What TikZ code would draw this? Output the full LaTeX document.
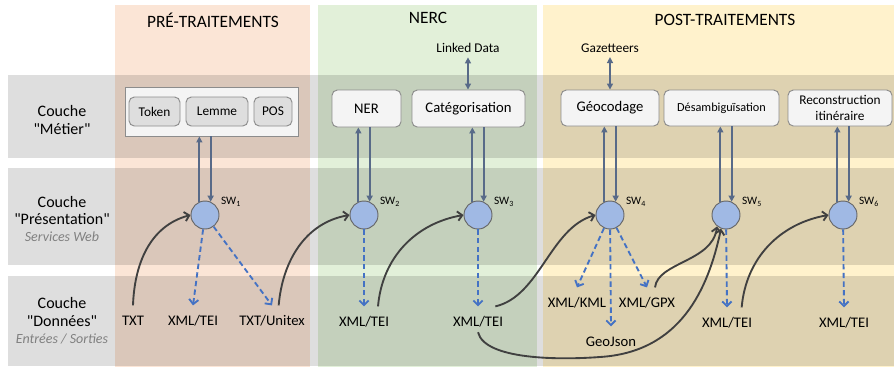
\documentclass[tikz,border=0pt]{standalone}
\usepackage{fontspec}
\setmainfont{Carlito}[Ligatures=TeXOff]
\usepackage{xcolor}
\usepackage{tikz}
\usetikzlibrary{arrows.meta}
\definecolor{prepeach}{RGB}{251,229,214}
\definecolor{nercgreen}{RGB}{226,240,217}
\definecolor{postyellow}{RGB}{255,242,204}
\definecolor{swblue}{RGB}{160,185,228}
\definecolor{pairline}{RGB}{88,106,136}
\definecolor{outblue}{RGB}{68,114,196}
\definecolor{curvegray}{RGB}{64,64,64}
\definecolor{boxfill}{RGB}{244,244,244}
\definecolor{tokfill}{RGB}{222,222,222}

\begin{document}
\begin{tikzpicture}[x=0.75pt,y=-0.75pt,
  title/.style={font=\fontsize{13}{15}\selectfont},
  layer/.style={align=center,font=\fontsize{12}{13}\selectfont},
  metier/.style={draw=black!45,fill=boxfill,rounded corners=4pt,inner sep=1pt,line width=0.7pt,font=\fontsize{11}{12}\selectfont},
  subbox/.style={metier,fill=tokfill,font=\fontsize{10}{11}\selectfont,minimum height=21.75pt},
  sw/.style={circle,draw=black!60,fill=swblue,minimum size=21pt,inner sep=0pt,line width=0.7pt},
  swlabel/.style={anchor=west,inner sep=1pt,font=\fontsize{8.5}{10}\selectfont},
  data/.style={font=\fontsize{11}{12}\selectfont,inner sep=7pt,text height=7.5pt,text depth=1.5pt},
  pair/.style={draw=pairline,line width=1.4pt,-{Triangle[length=4.5pt,width=4.5pt]}},
  dashout/.style={draw=outblue,line width=1.4pt,dash pattern=on 4pt off 2.5pt,-{Straight Barb[length=3.5pt,width=7pt]}},
  flow/.style={draw=curvegray,line width=1.4pt,-{Straight Barb[length=3.5pt,width=7pt]}}
]
\useasboundingbox (0,0) rectangle (894,369);

% Columns (processing steps)
\fill[prepeach]   (115,5) rectangle (310,367);
\fill[nercgreen]  (318,5) rectangle (537,367);
\fill[postyellow] (543,5) rectangle (894,367);

% Layers (gray bands)
\fill[black,fill opacity=0.13] (8,75)  rectangle (894,158);
\fill[black,fill opacity=0.13] (8,168) rectangle (894,265);
\fill[black,fill opacity=0.13] (8,276) rectangle (894,366);

% Column titles
\node[title] (pretitle)  at (213,20) {PRÉ-TRAITEMENTS};
\node[title] (nerctitle) at (428,18) {NERC};
\node[title] (posttitle) at (725,20) {POST-TRAITEMENTS};

% Layer labels
\node[layer] (lmetier) at (62,120) {Couche\\"Métier"};
\node[layer] (lpres) at (62,219) {Couche\\"Présentation"\\{\color{gray}\fontsize{10.5}{12}\selectfont\itshape Services Web}};
\node[layer] (ldonnees) at (62,321) {Couche\\"Données"\\{\color{gray}\fontsize{10.5}{12}\selectfont\itshape Entrées / Sorties}};

% Metier boxes
\node[draw=black!45,fill=boxfill,line width=0.7pt,minimum width=129.75pt,minimum height=36.75pt] (pre) at (211.5,111.5) {};
\node[subbox,minimum width=38.25pt] (token) at (154.5,111.5) {Token};
\node[subbox,minimum width=46.5pt]  (lemme) at (217,111.5) {Lemme};
\node[subbox,minimum width=28.5pt]  (pos)   at (273,111.5) {POS};

\node[metier,minimum width=51.75pt,minimum height=27.75pt] (ner)   at (366.5,108.5) {NER};
\node[metier,minimum width=84.75pt,minimum height=27.75pt] (categ) at (468.5,108.5) {Catégorisation};

\node[metier,minimum width=73.5pt,minimum height=27pt] (geocod) at (610,108) {Géocodage};
\node[metier,minimum width=86.25pt,minimum height=27pt,font=\fontsize{9.2}{10}\selectfont] (desamb) at (721.5,108) {Désambiguïsation};
\node[metier,minimum width=78pt,minimum height=27pt,align=center,font=\fontsize{10}{12}\selectfont] (recons) at (840,108) {Reconstruction\\itinéraire};

% External resources
\node[font=\fontsize{10}{12}\selectfont] (linked) at (468,48) {Linked Data};
\node[font=\fontsize{10}{12}\selectfont] (gazet)  at (610,48) {Gazetteers};
\draw[pairline,line width=1.4pt,{Triangle[length=4.5pt,width=4.5pt]}-{Triangle[length=4.5pt,width=4.5pt]}] (linked.south) -- (linked.south |- categ.north);
\draw[pairline,line width=1.4pt,{Triangle[length=4.5pt,width=4.5pt]}-{Triangle[length=4.5pt,width=4.5pt]}] (gazet.south) -- (gazet.south |- geocod.north);

% Web services and their links to the metier boxes
\foreach \i/\x/\bx in {1/205/pre,2/364/ner,3/478/categ,4/610/geocod,5/726/desamb,6/843/recons}{
  \node[sw] (sw\i) at (\x,215) {};
  \node[swlabel] (swlab\i) at ([yshift=9.75pt]sw\i.east) {SW\textsubscript{\i}};
  \draw[pair] (sw\i.113) -- (sw\i.113 |- \bx.south);
  \draw[pair] (sw\i.67 |- \bx.south) -- (sw\i.67);
}

% Data (inputs / outputs)
\node[data] (txt)     at (133,321) {TXT};
\node[data] (tei1)    at (193,321) {XML/TEI};
\node[data] (unitex)  at (272,321) {TXT/Unitex};
\node[data] (tei2)    at (364,322) {XML/TEI};
\node[data] (tei3)    at (478,322) {XML/TEI};
\node[data] (kml)     at (577,303) {XML/KML};
\node[data] (gpx)     at (647,303) {XML/GPX};
\node[data] (geojson) at (611,342) {GeoJson};
\node[data] (tei5)    at (727,323) {XML/TEI};
\node[data] (tei6)    at (844,323) {XML/TEI};

% Outputs (dashed)
\draw[dashout] (sw1) -- (tei1.north);
\draw[dashout] (sw1) -- (unitex.north);
\draw[dashout] (sw2) -- (tei2.north);
\draw[dashout] (sw3) -- (tei3.north);
\draw[dashout] (sw4) -- (kml.north);
\draw[dashout] (sw4) -- (geojson.north);
\draw[dashout] (sw4) -- (gpx.north);
\draw[dashout] (sw5) -- (tei5.north);
\draw[dashout] (sw6) -- (tei6.north);

% Inputs (curves)
\draw[flow] (txt.north) to[out=88,in=195] (sw1.west);
\draw[flow] ([xshift=5pt]unitex.north) to[out=85,in=190] (sw2.west);
\draw[flow] ([xshift=10.5pt]tei2.north) to[out=85,in=190] (sw3.west);
\draw[flow] ([xshift=13pt]tei3.north) .. controls (540,296) and (550,228) .. (sw4.west);
\draw[flow] ([xshift=6pt]gpx.north) .. controls (658,262) and (712,262) .. (sw5.232);
\draw[flow] ([yshift=4pt]tei3.south) .. controls (485,360) and (560,360) .. (600,357)
  .. controls (680,352) and (708,290) .. (sw5.250);
\draw[flow] ([xshift=11pt]tei5.north) to[out=85,in=190] (sw6.west);

\end{tikzpicture}
\end{document}
